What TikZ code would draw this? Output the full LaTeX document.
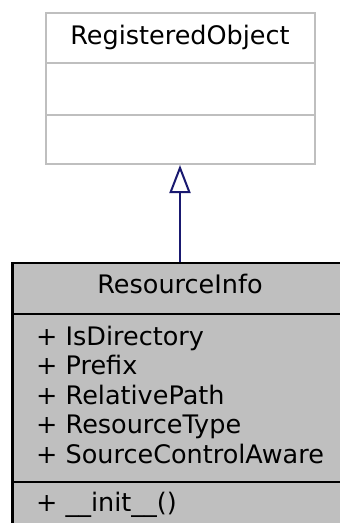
\documentclass[tikz,border=0pt]{standalone}
\usepackage{fontspec}
\setmainfont{DejaVu Sans}
\usetikzlibrary{arrows.meta}
\definecolor{boxgray}{HTML}{BFBFBF}
\definecolor{edgeblue}{HTML}{191970}
\tikzset{
  txt/.style={inner sep=0pt, font=\fontsize{25.5}{30}\selectfont},
  baseclass/.style={draw=boxgray, fill=white, line width=2pt, inner sep=0pt},
  mainclass/.style={draw=black, fill=boxgray, line width=2.6pt, inner sep=0pt},
  inherit/.style={draw=edgeblue, line width=2pt, -{Triangle[open, length=28pt, width=21pt, line width=2pt]}},
}
\begin{document}
\begin{tikzpicture}[x=1pt, y=-1pt]
\clip (0,0) rectangle (340,523);
\fill[white] (0,0) rectangle (340,523);
% base class box
\node[baseclass, minimum width=269pt, minimum height=151pt] (ro) at (180.5,88.5) {};
\draw[boxgray, line width=2pt] (46,63) -- (315,63);
\draw[boxgray, line width=2pt] (46,115) -- (315,115);
\node[txt, anchor=base] (roname) at (180,44) {RegisteredObject};
% main class box
\node[mainclass, minimum width=333pt, minimum height=267pt] (ri) at (179,396.5) {};
\draw[black, line width=2.6pt] (12,314) -- (345,314);
\draw[black, line width=2.6pt] (12,482) -- (345,482);
\node[txt, anchor=base] (riname) at (180,293) {ResourceInfo};
\node[txt, anchor=base west] (a1) at (36,345) {+ IsDirectory};
\node[txt, anchor=base west] (a2) at (36,374.5) {+ Prefix};
\node[txt, anchor=base west] (a3) at (36,404) {+ RelativePath};
\node[txt, anchor=base west] (a4) at (36,433.5) {+ ResourceType};
\node[txt, anchor=base west] (a5) at (36,463) {+ SourceControlAware};
\node[txt, anchor=base west] (m1) at (36,511) {+ \_\_init\_\_()};
% inheritance
\draw[inherit] (ri.north -| roname.south) -- (ro.south -| roname.south);
\end{tikzpicture}
\end{document}
